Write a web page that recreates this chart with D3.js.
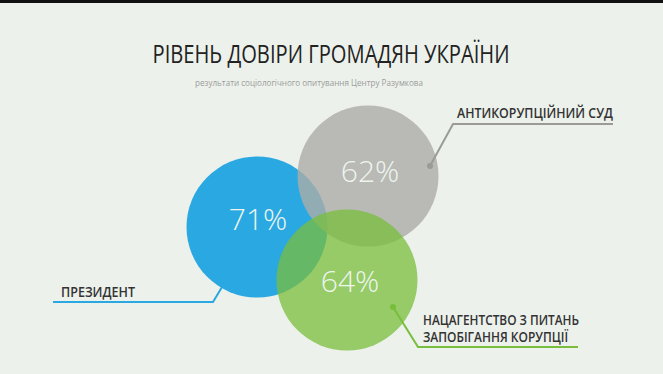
<!DOCTYPE html>
<html><head><meta charset="utf-8">
<script src="https://cdn.jsdelivr.net/npm/d3@7"></script>
<style>
html,body{margin:0;padding:0;background:#edf1ec;}
svg{display:block;}
</style></head>
<body>
<script>
// Data
const categories = ["ПРЕЗИДЕНТ", "АНТИКОРУПЦІЙНИЙ СУД", "НАЦАГЕНТСТВО З ПИТАНЬ\nЗАПОБІГАННЯ КОРУПЦІЇ"];
const values = [71, 62, 64];
const title = "РІВЕНЬ ДОВІРИ ГРОМАДЯН УКРАЇНИ";
const subtitle = "результати соціологічного опитування Центру Разумкова";

// Layout / style (not data)
const W = 663, H = 374;
const colors = ["#29a8e2", "#abaca8", "#78be3c"];
const opac = [1, 0.8, 0.75];
const centers = [[257, 227], [368, 176], [347, 280]];
const R = 70.5;
const textPos = [[258, 218], [370, 170], [350, 280]];
const dots = [[237, 262], [430, 166], [393, 307]];
const leaders = [
  [[237, 262], [213, 302], [53, 302]],
  [[430, 166], [453, 124], [613, 124]],
  [[393, 307], [418, 347], [578, 347]]
];
const labelPos = [[61, 297, 74], [457, 118, 156], [423, 325, 156]];

const svg = d3.select("body").append("svg").attr("width", W).attr("height", H);
svg.append("rect").attr("width", W).attr("height", H).attr("fill", "#edf1ec");
svg.append("rect").attr("width", W).attr("height", 3).attr("fill", "#111");

svg.append("text").attr("x", 331).attr("y", 63).attr("text-anchor", "middle")
  .attr("font-family", "Open Sans").attr("font-size", 26).attr("font-weight", 400)
  .attr("fill", "#222").attr("textLength", 357).attr("lengthAdjust", "spacingAndGlyphs")
  .text(title);
svg.append("text").attr("x", 309).attr("y", 86).attr("text-anchor", "middle")
  .attr("font-family", "Open Sans").attr("font-size", 8.5)
  .attr("fill", "#9a9d9a").attr("textLength", 228).attr("lengthAdjust", "spacingAndGlyphs")
  .text(subtitle);

const data = categories.map((c, i) => ({cat: c, value: values[i], i}));
const fmt = d => d3.format("d")(d) + "%";

// circles
svg.append("g").selectAll("circle").data(data).join("circle")
  .attr("cx", d => centers[d.i][0]).attr("cy", d => centers[d.i][1])
  .attr("r", R).attr("fill", d => colors[d.i]).attr("fill-opacity", d => opac[d.i]);

// values
svg.append("g").selectAll("text").data(data).join("text")
  .attr("x", d => textPos[d.i][0]).attr("y", d => textPos[d.i][1])
  .attr("text-anchor", "middle").attr("dominant-baseline", "central")
  .attr("font-family", "Open Sans").attr("font-weight", 300).attr("font-size", 30)
  .attr("fill", "#eef5ee").text(d => fmt(d.value));

// leaders
const lineColors = ["#29a8e2", "#9a9b98", "#78be3c"];
const line = d3.line();
svg.append("g").selectAll("path").data(data).join("path")
  .attr("d", d => line(leaders[d.i])).attr("fill", "none")
  .attr("stroke", d => lineColors[d.i]).attr("stroke-width", 2);
svg.append("g").selectAll("circle").data(data).join("circle")
  .attr("cx", d => dots[d.i][0]).attr("cy", d => dots[d.i][1]).attr("r", 3)
  .attr("fill", d => lineColors[d.i]);

// labels
svg.append("g").selectAll("text").data(data).join("text")
  .attr("font-family", "Open Sans").attr("font-weight", 600).attr("font-size", 13.5)
  .attr("fill", "#333")
  .each(function(d) {
    const lines = d.cat.split("\n");
    const t = d3.select(this);
    lines.forEach((l, k) => {
      t.append("tspan").attr("x", labelPos[d.i][0]).attr("y", labelPos[d.i][1] + k * 17)
        .attr("textLength", labelPos[d.i][2] * (k === 0 ? 1 : 0.93))
        .attr("lengthAdjust", "spacingAndGlyphs").text(l);
    });
  });
</script>
</body></html>
